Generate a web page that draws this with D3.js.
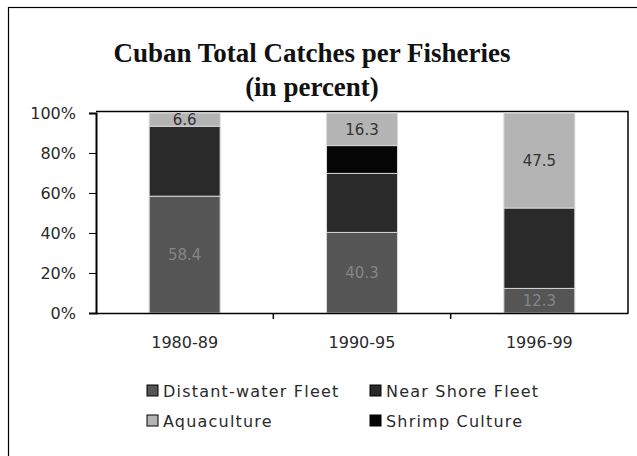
<!DOCTYPE html>
<html>
<head>
<meta charset="utf-8">
<script src="https://cdn.jsdelivr.net/npm/d3@7"></script>
<style>
  body { margin: 0; background: #fff; }
  svg { display: block; }
  .tick text { font-family: "DejaVu Sans", Verdana, sans-serif; }
</style>
</head>
<body>
<svg id="chart" width="637" height="456"></svg>
<script>
"use strict"

const categories = ["1980-89", "1990-95", "1996-99"]
const seriesNames = ["Distant-water Fleet", "Near Shore Fleet", "Shrimp Culture", "Aquaculture"]
const distantWater = [58.4, 40.3, 12.3]
const nearShore = [35.0, 29.5, 40.2]
const shrimpCulture = [0, 13.9, 0]
const aquaculture = [6.6, 16.3, 47.5]
const yTicks = [0, 20, 40, 60, 80, 100]
// only these series show a readable label in the picture
const labelled = ["Distant-water Fleet", "Aquaculture"]

const fills = {
    "Distant-water Fleet": "#555555",
    "Near Shore Fleet": "#2a2a2a",
    "Shrimp Culture": "#050505",
    "Aquaculture": "#b4b4b4"
}
const labelColors = {
    "Distant-water Fleet": "#858585",
    "Aquaculture": "#333"
}

const svg = d3.select("#chart")
const plot = { left: 96, right: 628, top: 113, bottom: 313 }
const sans = "'DejaVu Sans', Verdana, sans-serif"
const serif = "'Liberation Serif', 'Times New Roman', serif"

// outer chart frame (right and bottom run off the picture)
svg.append("rect")
    .attr("x", 8.5).attr("y", 7.5)
    .attr("width", 700).attr("height", 500)
    .attr("fill", "none").attr("stroke", "#000").attr("stroke-width", 1.2)

const titleLines = ["Cuban Total Catches per Fisheries", "(in percent)"]
svg.selectAll(".title")
    .data(titleLines)
    .enter().append("text")
        .attr("class", "title")
        .attr("x", 312).attr("y", (d, i) => 62 + i * 34)
        .attr("text-anchor", "middle")
        .style("font-family", serif)
        .style("font-weight", "bold").style("font-size", "27px")
        .attr("fill", "#111")
        .text(d => d)

const table = categories.map((c, i) => ({
    category: c,
    "Distant-water Fleet": distantWater[i],
    "Near Shore Fleet": nearShore[i],
    "Shrimp Culture": shrimpCulture[i],
    "Aquaculture": aquaculture[i]
}))

const stack = d3.stack().keys(seriesNames)(table)

const x = d3.scaleBand()
    .domain(categories)
    .range([plot.left, plot.right])
    .paddingInner(0.6).paddingOuter(0.3)

const y = d3.scaleLinear()
    .domain([0, 100])
    .range([plot.bottom, plot.top])

// plot border (top and right)
svg.append("path")
    .attr("d", "M" + plot.left + "," + (plot.top - 1.5) + "H" + plot.right + "V" + plot.bottom)
    .attr("fill", "none").attr("stroke", "#000").attr("stroke-width", 1.5)

const layer = svg.selectAll(".layer")
    .data(stack)
    .enter().append("g")
        .attr("class", "layer")
        .attr("fill", d => fills[d.key])

layer.selectAll("rect")
    .data(d => d.filter(s => s[1] - s[0] > 0))
    .enter().append("rect")
        .attr("x", d => x(d.data.category))
        .attr("width", x.bandwidth())
        .attr("y", d => y(d[1]))
        .attr("height", d => y(d[0]) - y(d[1]))
        .attr("stroke", "#d8d8d8")
        .attr("stroke-width", 1)

layer.filter(d => labelled.includes(d.key))
    .selectAll("text")
    .data(d => d.filter(s => s[1] - s[0] > 0).map(s => ({ s: s, key: d.key })))
    .enter().append("text")
        .attr("x", d => x(d.s.data.category) + x.bandwidth() / 2)
        .attr("y", d => (y(d.s[0]) + y(d.s[1])) / 2)
        .attr("dy", "0.35em")
        .attr("text-anchor", "middle")
        .attr("fill", d => labelColors[d.key])
        .style("font-family", sans)
        .style("font-size", "15px")
        .text(d => (d.s[1] - d.s[0]).toFixed(1))

const yAxis = svg.append("g")
    .attr("transform", "translate(" + plot.left + ",0)")
    .call(d3.axisLeft(y).tickValues(yTicks).tickSize(7).tickPadding(13).tickFormat(d => d + "%"))
yAxis.select(".domain").attr("stroke-width", 2)
yAxis.selectAll("text").style("font-size", "16px").attr("fill", "#2a2a2a")

const xAxis = svg.append("g")
    .attr("transform", "translate(0," + plot.bottom + ")")
    .call(d3.axisBottom(x).tickSize(0).tickPadding(24))
xAxis.select(".domain").attr("stroke-width", 1.5)
xAxis.selectAll("text").style("font-size", "16px").attr("fill", "#2a2a2a")

// tick marks between the categories
const sep = categories.slice(1).map(c => x(c) - x.step() * x.paddingInner() / 2)
svg.selectAll(".sep")
    .data(sep)
    .enter().append("line")
        .attr("x1", d => d).attr("x2", d => d)
        .attr("y1", plot.bottom).attr("y2", plot.bottom + 6)
        .attr("stroke", "#000").attr("stroke-width", 1.5)

// legend, two columns
const legendOrder = ["Distant-water Fleet", "Near Shore Fleet", "Aquaculture", "Shrimp Culture"]
const legend = svg.selectAll(".legend")
    .data(legendOrder)
    .enter().append("g")
        .attr("class", "legend")
        .attr("transform", (d, i) => "translate(" + (i % 2 === 0 ? 147 : 370) + "," + (i < 2 ? 391 : 421) + ")")

legend.append("rect")
    .attr("x", 0).attr("y", -6)
    .attr("width", 11).attr("height", 11)
    .attr("fill", d => fills[d])
    .attr("stroke", "#000").attr("stroke-width", 1)

legend.append("text")
    .attr("x", 16).attr("dy", "0.35em")
    .style("font-family", sans)
    .style("font-size", "16px")
    .style("letter-spacing", "1.2px")
    .attr("fill", "#2a2a2a")
    .text(d => d)
</script>
</body>
</html>
